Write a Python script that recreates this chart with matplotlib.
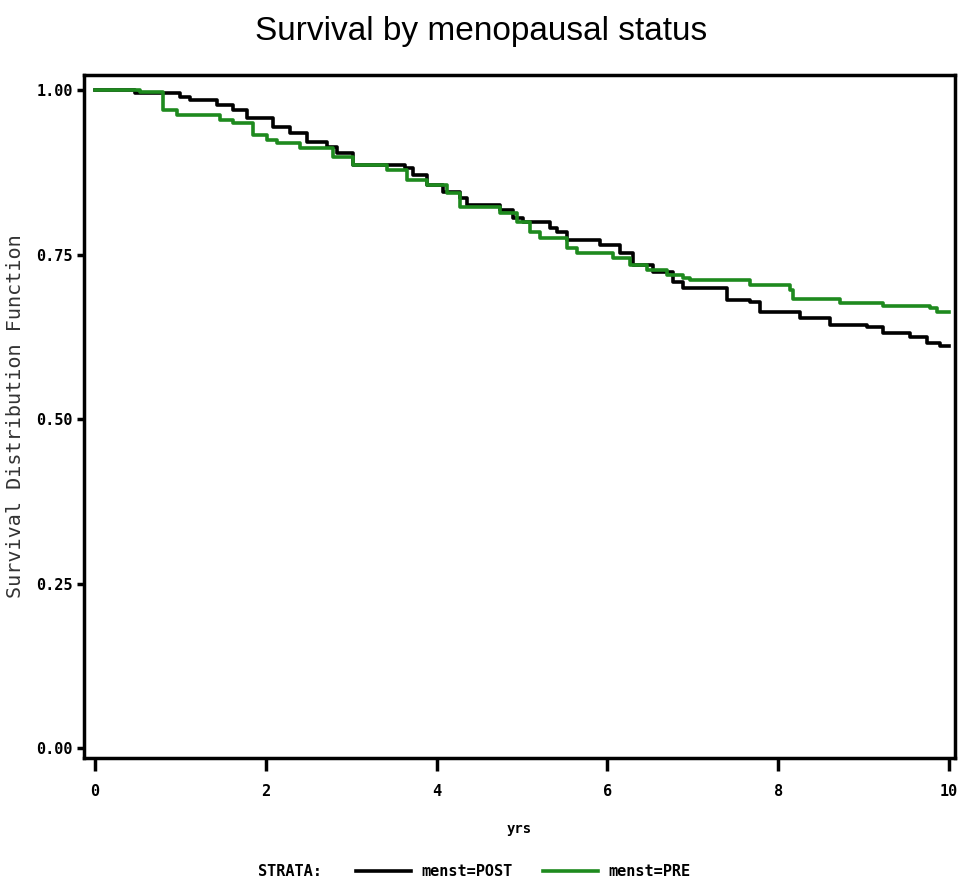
import matplotlib
matplotlib.use("Agg")
import matplotlib.pyplot as plt

# Kaplan-Meier estimates (time in years, survival)
post_t = [0.0, 0.47, 1.00, 1.11, 1.43, 1.62, 1.78, 2.08, 2.28, 2.48, 2.72, 2.83,
          3.02, 3.63, 3.72, 3.89, 4.07, 4.27, 4.36, 4.74, 4.89, 5.01, 5.33, 5.41,
          5.53, 5.91, 6.15, 6.30, 6.53, 6.77, 6.89, 7.40, 7.67, 7.79, 8.26, 8.61,
          9.04, 9.23, 9.54, 9.74, 9.89, 10.0]
post_s = [1.000, 0.995, 0.990, 0.985, 0.977, 0.970, 0.957, 0.944, 0.935, 0.921, 0.913, 0.904,
          0.886, 0.881, 0.871, 0.856, 0.845, 0.836, 0.825, 0.818, 0.805, 0.800, 0.790, 0.784,
          0.772, 0.764, 0.752, 0.734, 0.723, 0.708, 0.700, 0.681, 0.678, 0.663, 0.654, 0.643,
          0.640, 0.631, 0.625, 0.615, 0.611, 0.611]

pre_t = [0.0, 0.53, 0.80, 0.96, 1.46, 1.62, 1.85, 2.01, 2.13, 2.40, 2.79, 3.02,
         3.42, 3.65, 3.89, 4.12, 4.27, 4.74, 4.94, 5.09, 5.21, 5.53, 5.64, 6.07,
         6.26, 6.46, 6.70, 6.89, 6.97, 7.67, 8.14, 8.17, 8.72, 9.23, 9.78, 9.86, 10.0]
pre_s = [1.000, 0.997, 0.970, 0.962, 0.954, 0.950, 0.932, 0.924, 0.919, 0.912, 0.898, 0.886,
         0.878, 0.863, 0.856, 0.843, 0.822, 0.813, 0.800, 0.784, 0.775, 0.760, 0.752, 0.745,
         0.734, 0.726, 0.719, 0.715, 0.712, 0.704, 0.696, 0.682, 0.676, 0.672, 0.669, 0.663, 0.663]

x_ticks = [0, 2, 4, 6, 8, 10]
y_ticks = [0.00, 0.25, 0.50, 0.75, 1.00]

mono = "DejaVu Sans Mono"

fig = plt.figure(figsize=(9.63, 8.85), dpi=100)
ax = fig.add_axes([0.0872, 0.1435, 0.9045, 0.7718])

l_post, = ax.step(post_t, post_s, where="post", color="black", lw=2.6, label="menst=POST")
l_pre, = ax.step(pre_t, pre_s, where="post", color="#1e8a1e", lw=2.6, label="menst=PRE")

ax.set_xlim(-0.13, 10.07)
ax.set_ylim(-0.015, 1.023)
ax.set_xticks(x_ticks)
ax.set_xticklabels([str(v) for v in x_ticks], family=mono, fontweight="bold", fontsize=11)
ax.set_yticks(y_ticks)
ax.set_yticklabels([f"{v:.2f}" for v in y_ticks], family=mono, fontweight="bold", fontsize=11)
ax.tick_params(axis="x", direction="out", length=9, width=2.5, pad=10)
ax.tick_params(axis="y", direction="out", length=5, width=2.5, pad=3)
for sp in ax.spines.values():
    sp.set_linewidth(2.5)

ax.set_xlabel("yrs", family=mono, fontweight="bold", fontsize=10, labelpad=16)
ax.set_ylabel("Survival Distribution Function", family=mono,
              fontsize=14.5, color="#333333", labelpad=8)

fig.suptitle("Survival by menopausal status", y=0.982, fontsize=24,
             family=["Liberation Sans", "DejaVu Sans"])

# legend row at the bottom
fig.text(0.268, 0.0147, "STRATA:", family=mono, fontweight="bold",
         fontsize=11, va="center")
fig.legend(handles=[l_post, l_pre], ncol=2, frameon=False, loc="center left",
           bbox_to_anchor=(0.37, 0.0147), borderaxespad=0, borderpad=0,
           handlelength=3.6, handletextpad=0.65, columnspacing=2.0,
           prop={"family": mono, "weight": "bold", "size": 11})

fig.savefig("out.png", dpi=100)
